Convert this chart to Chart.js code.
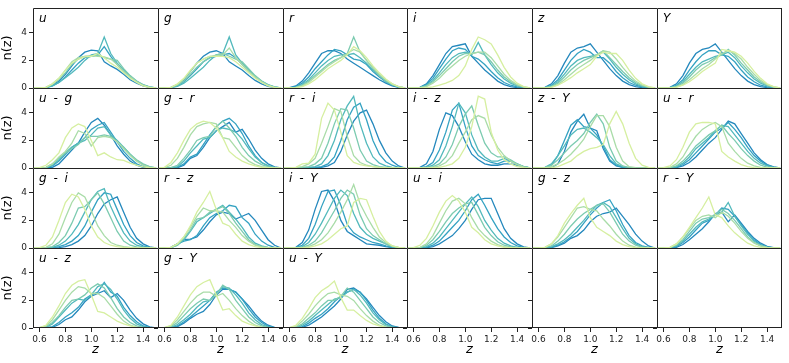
<!DOCTYPE html>
<html>
<head>
<meta charset="utf-8">
<script src="https://cdn.jsdelivr.net/npm/chart.js@4.4.1/dist/chart.umd.min.js"></script>
<style>
  body { margin: 0; background: #fff; }
  #fig { position: relative; width: 789px; height: 363px; overflow: hidden; }
  #fig canvas { position: absolute; }
</style>
</head>
<body>
<div id="fig"></div>
<script>
// redshift grid shared by every panel
const zGrid = [0.55, 0.60, 0.65, 0.70, 0.75, 0.80, 0.85, 0.90, 0.95, 1.00, 1.05, 1.10, 1.15, 1.20, 1.25, 1.30, 1.35, 1.40, 1.45, 1.50];
const xTicks = [0.6, 0.8, 1.0, 1.2, 1.4];
const yTicks = [0, 2, 4];
const panelNames = ['u', 'g', 'r', 'i', 'z', 'Y', 'u - g', 'g - r', 'r - i', 'i - z', 'z - Y', 'u - r',
  'g - i', 'r - z', 'i - Y', 'u - i', 'g - z', 'r - Y', 'u - z', 'g - Y', 'u - Y'];
// six bins per panel, lightest first
const lineColors = ['#d6efa0', '#a9dca8', '#7ccbb0', '#52b9bc', '#34a2c2', '#2488bd'];

const nz_u = [
  [0,0,0.05,0.3,0.7,1.3,1.8,2.1,2.25,2.3,2.5,2.2,1.8,1.5,1.1,0.7,0.4,0.15,0.05,0],
  [0,0,0.05,0.3,0.7,1.3,1.9,2.2,2.3,2.35,2.3,2.25,2.1,1.7,1.2,0.8,0.45,0.2,0.05,0],
  [0,0,0.05,0.25,0.6,1.1,1.7,2.1,2.3,2.3,2.4,2.2,2.1,2.0,1.4,0.9,0.5,0.2,0.07,0],
  [0,0,0.03,0.15,0.4,0.75,1.1,1.5,2.0,2.4,2.5,3.7,2.5,1.8,1.3,0.85,0.5,0.25,0.08,0],
  [0,0,0.03,0.15,0.4,0.8,1.3,1.8,2.2,2.3,2.4,3.0,2.3,1.7,1.2,0.8,0.45,0.2,0.07,0],
  [0,0,0.05,0.2,0.5,1.0,1.6,2.2,2.6,2.75,2.7,1.9,1.6,1.35,1.0,0.6,0.35,0.15,0.05,0]
];
const nz_g = [
  [0,0,0.05,0.3,0.7,1.3,1.8,2.1,2.3,2.3,2.3,2.2,1.9,1.5,1.1,0.7,0.4,0.15,0.05,0],
  [0,0,0.05,0.25,0.65,1.2,1.8,2.1,2.3,2.35,2.4,2.9,2.2,1.7,1.2,0.8,0.45,0.2,0.05,0],
  [0,0,0.04,0.2,0.5,1.0,1.5,1.9,2.2,2.4,2.5,2.3,2.1,1.9,1.4,0.9,0.5,0.2,0.07,0],
  [0,0,0.03,0.12,0.35,0.7,1.1,1.5,2.0,2.4,2.5,3.7,2.4,1.8,1.3,0.85,0.5,0.25,0.08,0],
  [0,0,0.03,0.15,0.45,0.9,1.4,1.9,2.2,2.3,2.4,2.5,2.2,1.7,1.2,0.8,0.45,0.2,0.07,0],
  [0,0,0.05,0.25,0.6,1.2,1.8,2.3,2.6,2.7,2.5,1.9,1.6,1.3,0.9,0.55,0.3,0.12,0.04,0]
];
const nz_r = [
  [0,0,0.02,0.1,0.3,0.6,1.0,1.4,1.7,2.0,2.4,3.0,2.7,2.2,1.6,1.1,0.65,0.3,0.1,0],
  [0,0,0.03,0.15,0.4,0.8,1.2,1.6,1.9,2.2,2.5,2.8,2.6,2.0,1.5,1.0,0.6,0.3,0.1,0],
  [0,0,0.04,0.2,0.5,0.9,1.3,1.7,2.0,2.2,2.5,3.7,2.6,2.0,1.4,0.9,0.5,0.25,0.08,0],
  [0,0,0.05,0.25,0.6,1.1,1.6,2.0,2.3,2.4,2.4,2.5,2.2,1.8,1.3,0.9,0.5,0.25,0.08,0],
  [0,0,0.1,0.35,0.8,1.4,1.9,2.4,2.8,2.7,2.4,2.1,2.0,1.7,1.2,0.8,0.45,0.2,0.07,0],
  [0,0.02,0.15,0.5,1.1,1.8,2.5,2.7,2.7,2.5,2.1,1.8,1.5,1.2,0.9,0.6,0.35,0.15,0.05,0]
];
const nz_i = [
  [0,0,0,0.02,0.08,0.2,0.35,0.55,0.9,1.6,2.8,3.7,3.5,3.2,2.4,1.5,0.8,0.35,0.1,0],
  [0,0,0.02,0.1,0.35,0.7,1.2,1.6,2.0,2.3,2.5,2.6,2.6,2.2,1.6,1.0,0.55,0.25,0.08,0],
  [0,0,0.03,0.15,0.45,0.9,1.4,1.9,2.3,2.5,2.5,2.6,2.4,1.9,1.3,0.8,0.45,0.2,0.06,0],
  [0,0,0.03,0.2,0.55,1.1,1.7,2.2,2.5,2.6,2.4,3.3,2.4,1.7,1.1,0.65,0.35,0.15,0.05,0],
  [0,0,0.05,0.25,0.7,1.4,2.1,2.7,2.9,2.8,2.3,2.1,1.7,1.2,0.75,0.4,0.2,0.08,0.02,0],
  [0,0,0.05,0.3,0.9,1.7,2.5,3.0,3.1,3.2,2.3,1.8,1.3,0.9,0.5,0.25,0.1,0.03,0,0]
];
const nz_z = [
  [0,0,0,0.05,0.2,0.45,0.75,1.1,1.4,1.7,2.3,2.6,2.5,2.5,2.0,1.3,0.7,0.3,0.1,0],
  [0,0,0.01,0.08,0.25,0.6,1.0,1.4,1.7,2.0,2.4,2.7,2.6,2.1,1.5,0.95,0.5,0.22,0.07,0],
  [0,0,0.02,0.1,0.35,0.8,1.3,1.7,2.0,2.2,2.4,2.7,2.2,1.7,1.2,0.75,0.4,0.18,0.05,0],
  [0,0,0.02,0.15,0.45,1.0,1.6,2.0,2.2,2.3,2.4,2.6,2.1,1.5,1.0,0.6,0.3,0.12,0.04,0],
  [0,0,0.03,0.2,0.6,1.3,2.0,2.5,2.8,2.6,2.2,2.2,1.8,1.2,0.75,0.4,0.2,0.08,0.02,0],
  [0,0,0.05,0.3,0.9,1.8,2.6,2.9,3.0,3.2,2.6,2.0,1.4,0.9,0.5,0.25,0.1,0.03,0,0]
];
const nz_Y = [
  [0,0,0,0.05,0.2,0.45,0.8,1.2,1.5,1.8,2.8,2.7,2.6,2.3,1.8,1.2,0.7,0.3,0.1,0],
  [0,0,0.01,0.08,0.25,0.6,1.0,1.4,1.7,2.1,2.5,2.7,2.5,2.1,1.5,1.0,0.55,0.25,0.08,0],
  [0,0,0.02,0.1,0.35,0.8,1.3,1.7,1.9,2.2,2.4,2.8,2.4,1.8,1.3,0.8,0.45,0.2,0.06,0],
  [0,0,0.02,0.15,0.45,1.0,1.5,1.9,2.1,2.3,2.4,2.6,2.2,1.6,1.1,0.65,0.35,0.15,0.05,0],
  [0,0,0.03,0.2,0.6,1.3,1.9,2.4,2.7,2.7,2.4,2.3,1.9,1.3,0.8,0.45,0.2,0.08,0.02,0],
  [0,0,0.05,0.3,0.9,1.8,2.5,2.8,2.9,3.2,2.6,2.0,1.4,0.9,0.5,0.25,0.1,0.03,0,0]
];
const nz_ug = [
  [0,0.02,0.2,0.6,1.1,2.2,2.9,3.2,3.0,2.0,0.9,1.1,0.8,0.6,0.55,0.35,0.2,0.08,0.02,0],
  [0,0,0.05,0.3,0.8,1.2,1.8,2.7,2.5,1.6,2.2,2.3,2.2,1.9,1.4,0.9,0.5,0.2,0.05,0],
  [0,0,0.05,0.3,0.7,1.1,1.4,1.7,2.2,2.3,2.3,2.4,2.3,1.9,1.5,1.0,0.6,0.3,0.1,0],
  [0,0,0.03,0.2,0.6,1.1,1.5,1.8,2.0,2.4,2.9,3.0,2.4,2.0,1.5,1.0,0.55,0.25,0.08,0],
  [0,0,0.02,0.15,0.5,1.0,1.5,1.8,2.2,2.8,3.1,3.3,2.6,1.9,1.2,0.7,0.3,0.1,0.02,0],
  [0,0,0,0.05,0.3,0.8,1.3,1.8,2.6,3.3,3.6,3.1,2.4,1.6,1.0,0.5,0.2,0.05,0,0]
];
const nz_gr = [
  [0,0.05,0.4,1.1,2.0,2.8,3.2,3.4,3.3,2.9,2.2,1.2,0.8,0.5,0.3,0.15,0.05,0.02,0,0],
  [0,0.02,0.2,0.7,1.5,2.4,3.0,3.2,3.3,3.2,2.2,2.1,1.5,0.9,0.5,0.25,0.1,0.04,0,0],
  [0,0,0.03,0.2,0.7,1.3,2.0,2.2,2.3,3.0,3.4,2.9,2.3,1.5,0.9,0.5,0.25,0.1,0.03,0],
  [0,0,0.02,0.1,0.5,1.1,1.6,2.1,2.2,2.7,2.9,2.8,2.6,2.1,1.4,0.8,0.4,0.15,0.04,0],
  [0,0,0,0.05,0.3,0.8,1.0,1.7,2.4,3.0,3.4,3.6,3.2,2.5,1.6,0.9,0.4,0.15,0.04,0],
  [0,0,0,0.02,0.2,0.7,0.9,1.5,2.2,2.7,3.0,3.3,2.6,2.8,2.1,1.3,0.7,0.3,0.08,0]
];
const nz_ri = [
  [0,0,0.05,0.3,0.35,1.0,3.6,4.7,4.2,2.6,0.9,0.4,0.25,0.15,0.1,0.05,0.02,0,0,0],
  [0,0,0.03,0.1,0.3,0.7,1.8,3.0,4.3,4.1,2.3,0.9,0.4,0.2,0.1,0.05,0.02,0,0,0],
  [0,0,0,0.05,0.1,0.3,0.7,1.8,3.2,4.3,4.2,2.9,1.3,0.5,0.25,0.1,0.05,0.02,0,0],
  [0,0,0,0.02,0.05,0.1,0.3,0.9,2.0,3.5,4.5,5.2,3.2,1.8,0.8,0.35,0.15,0.05,0.02,0],
  [0,0,0,0,0.02,0.05,0.1,0.3,0.8,2.0,3.5,4.4,4.7,3.5,2.0,1.0,0.45,0.2,0.05,0],
  [0,0,0,0,0,0.02,0.05,0.15,0.4,1.2,2.4,3.4,4.0,4.2,3.2,2.0,1.1,0.5,0.15,0]
];
const nz_iz = [
  [0,0,0,0,0.02,0.05,0.15,0.3,0.7,1.5,3.0,5.2,5.0,2.6,1.3,0.6,0.3,0.1,0.03,0],
  [0,0,0,0,0.05,0.15,0.4,0.9,1.8,2.6,3.5,3.8,3.6,2.4,1.5,0.9,0.5,0.25,0.08,0],
  [0,0,0,0.02,0.1,0.3,0.8,1.7,3.0,3.9,4.5,3.1,1.8,1.1,0.8,0.8,0.6,0.3,0.1,0],
  [0,0,0,0.05,0.2,0.6,1.6,3.0,4.7,4.0,2.4,1.3,0.8,0.5,0.5,0.7,0.5,0.25,0.08,0],
  [0,0,0.02,0.1,0.4,1.3,2.6,4.2,4.7,3.0,1.6,0.9,0.6,0.4,0.3,0.5,0.5,0.3,0.1,0],
  [0,0,0.05,0.3,1.2,2.8,4.0,3.8,3.0,1.9,1.0,0.6,0.3,0.2,0.2,0.3,0.3,0.2,0.1,0]
];
const nz_zY = [
  [0,0,0,0.02,0.1,0.3,0.5,0.9,1.2,1.4,1.5,1.7,3.2,4.1,3.2,1.8,0.7,0.2,0.05,0],
  [0,0,0.02,0.1,0.3,0.6,1.0,1.5,2.1,3.0,3.8,3.8,3.0,1.5,0.5,0.1,0.02,0,0,0],
  [0,0,0.03,0.2,0.6,1.1,1.6,2.0,2.5,3.3,3.9,3.2,1.5,0.5,0.15,0.03,0,0,0,0],
  [0,0,0.05,0.3,0.9,1.6,2.4,2.8,2.9,2.6,2.2,1.7,0.9,0.3,0.1,0.02,0,0,0,0],
  [0,0,0.02,0.2,0.9,2.0,3.1,3.5,3.0,2.9,2.4,1.6,0.6,0.2,0.05,0,0,0,0,0],
  [0,0,0,0.02,0.3,1.2,2.6,3.4,3.9,2.9,2.7,1.4,0.5,0.15,0.05,0,0,0,0,0]
];
const nz_ur = [
  [0,0.02,0.15,0.6,1.5,2.6,3.2,3.3,3.3,3.2,1.2,0.8,0.5,0.25,0.1,0.03,0,0,0,0],
  [0,0,0.05,0.3,0.8,1.6,2.3,2.8,3.1,3.3,3.0,1.8,1.2,0.7,0.35,0.15,0.05,0,0,0],
  [0,0,0.02,0.15,0.5,1.0,1.6,2.0,2.4,2.7,3.1,2.5,2.0,1.4,0.9,0.5,0.2,0.07,0.02,0],
  [0,0,0.01,0.1,0.35,0.8,1.4,1.8,2.2,2.7,3.1,3.0,2.4,1.8,1.2,0.7,0.35,0.15,0.04,0],
  [0,0,0,0.05,0.25,0.6,1.1,1.6,2.1,2.6,2.9,3.3,2.8,2.2,1.5,0.9,0.5,0.2,0.06,0],
  [0,0,0,0.03,0.15,0.4,0.8,1.3,1.8,2.2,2.8,3.4,3.2,2.5,1.8,1.1,0.6,0.25,0.08,0]
];
const nz_gi = [
  [0,0.02,0.2,0.8,2.0,3.3,3.9,3.7,2.8,1.6,0.8,0.4,0.2,0.1,0.05,0.02,0,0,0,0],
  [0,0,0.05,0.3,1.0,2.2,3.3,4.0,3.7,2.7,1.6,0.9,0.4,0.2,0.1,0.04,0,0,0,0],
  [0,0,0.02,0.1,0.4,0.9,1.8,2.9,3.0,3.5,4.0,3.2,2.2,1.2,0.5,0.2,0.08,0.02,0,0],
  [0,0,0,0.05,0.2,0.5,1.0,1.7,2.6,3.5,4.1,4.3,3.0,2.0,1.1,0.5,0.2,0.08,0.02,0],
  [0,0,0,0.02,0.1,0.25,0.5,0.9,1.6,2.6,3.5,4.0,3.9,2.8,1.7,0.9,0.4,0.15,0.04,0],
  [0,0,0,0,0.03,0.1,0.25,0.5,0.9,1.6,2.5,3.2,3.5,3.7,2.6,1.5,0.7,0.3,0.08,0]
];
const nz_rz = [
  [0,0,0.05,0.3,0.8,1.6,2.6,3.3,4.1,2.8,1.8,1.6,1.0,0.5,0.25,0.1,0.03,0,0,0],
  [0,0,0.05,0.3,0.8,1.5,2.3,2.9,2.7,2.7,2.6,2.0,1.5,0.9,0.5,0.2,0.08,0.02,0,0],
  [0,0,0.03,0.2,0.7,1.3,2.1,2.2,2.6,2.8,3.0,2.5,1.8,1.2,0.6,0.25,0.1,0.03,0,0],
  [0,0,0.02,0.2,0.6,1.2,1.9,2.2,2.5,2.8,3.1,2.6,2.1,1.5,0.8,0.35,0.15,0.05,0,0],
  [0,0,0.05,0.3,0.5,0.6,0.9,1.6,2.2,2.5,2.7,3.1,3.0,2.2,1.8,1.0,0.5,0.2,0.05,0],
  [0,0,0.05,0.3,0.6,0.65,0.8,1.3,1.9,2.4,2.6,2.5,2.1,2.3,2.5,2.0,1.3,0.6,0.2,0]
];
const nz_iY = [
  [0,0,0,0,0.05,0.15,0.3,0.6,1.0,1.4,1.6,3.3,3.6,3.5,2.3,1.2,0.5,0.15,0.04,0],
  [0,0,0,0.02,0.1,0.3,0.6,1.1,1.8,2.6,3.5,4.6,3.2,2.3,1.5,0.8,0.4,0.15,0.04,0],
  [0,0,0,0.05,0.2,0.5,1.1,1.9,2.7,3.6,4.2,3.9,2.4,1.4,0.9,0.6,0.3,0.1,0.03,0],
  [0,0,0.02,0.1,0.4,1.0,1.8,2.7,3.6,4.2,3.8,2.5,1.5,1.0,0.7,0.5,0.3,0.1,0.02,0],
  [0,0,0.03,0.2,0.7,1.7,3.0,4.1,4.2,3.1,1.7,1.1,0.8,0.6,0.4,0.3,0.15,0.05,0,0],
  [0,0,0.05,0.4,1.3,2.8,4.1,4.2,3.4,2.0,1.2,0.9,0.6,0.3,0.25,0.2,0.1,0.03,0,0]
];
const nz_ui = [
  [0,0.02,0.2,0.7,1.6,2.6,3.4,3.8,3.4,2.6,1.5,1.1,0.6,0.3,0.15,0.05,0.02,0,0,0],
  [0,0,0.05,0.3,0.9,1.8,2.7,3.4,3.6,3.2,2.2,1.4,0.9,0.5,0.25,0.1,0.03,0,0,0],
  [0,0,0.03,0.2,0.6,1.2,1.9,2.5,2.9,3.2,3.3,2.4,1.5,0.9,0.45,0.2,0.08,0.02,0,0],
  [0,0,0.02,0.1,0.35,0.8,1.4,2.0,2.6,3.2,3.7,3.0,2.0,1.3,0.7,0.35,0.15,0.04,0,0],
  [0,0,0,0.05,0.2,0.5,1.0,1.5,2.0,2.7,3.5,3.9,3.1,2.2,1.4,0.8,0.4,0.15,0.04,0],
  [0,0,0,0.02,0.1,0.3,0.6,0.9,1.4,2.0,2.8,3.5,3.6,3.6,2.5,1.4,0.7,0.3,0.08,0]
];
const nz_gz = [
  [0,0,0.05,0.3,0.9,1.8,2.5,3.1,3.6,2.2,1.5,1.2,0.9,0.5,0.25,0.1,0.03,0,0,0],
  [0,0,0.05,0.3,0.8,1.5,2.2,2.9,3.0,2.8,2.7,2.1,1.6,1.0,0.5,0.2,0.07,0.02,0,0],
  [0,0,0.03,0.15,0.5,1.0,1.6,2.1,2.5,2.8,3.1,3.2,2.6,1.8,1.0,0.5,0.2,0.06,0,0],
  [0,0,0.02,0.1,0.3,0.6,1.0,1.5,2.0,2.6,3.1,3.3,3.0,2.2,1.4,0.7,0.3,0.1,0.02,0],
  [0,0,0,0.05,0.2,0.45,0.8,1.2,1.8,2.4,2.9,3.3,3.5,2.7,1.7,0.9,0.4,0.15,0.04,0],
  [0,0,0,0.03,0.15,0.35,0.7,0.9,1.3,1.9,2.3,2.5,2.6,2.9,2.3,1.7,1.0,0.5,0.15,0]
];
const nz_rY = [
  [0,0,0.05,0.3,0.8,1.5,2.2,2.9,3.7,2.4,2.2,1.6,1.1,0.7,0.35,0.15,0.05,0,0,0],
  [0,0,0.05,0.3,0.8,1.4,2.0,2.3,2.4,2.2,2.6,2.3,1.8,1.2,0.7,0.35,0.15,0.05,0,0],
  [0,0,0.03,0.2,0.6,1.2,1.8,2.1,2.2,2.4,2.8,2.5,2.0,1.4,0.8,0.4,0.15,0.05,0,0],
  [0,0,0.02,0.15,0.5,1.0,1.5,1.9,2.1,2.4,2.6,3.3,2.3,1.6,1.0,0.5,0.2,0.06,0,0],
  [0,0,0.02,0.1,0.4,0.8,1.3,1.8,2.0,2.4,2.9,2.8,2.3,1.7,1.1,0.6,0.25,0.08,0,0],
  [0,0,0,0.05,0.25,0.6,1.0,1.4,1.9,2.5,2.6,1.9,2.4,1.8,1.2,0.7,0.35,0.12,0.03,0]
];
const nz_uz = [
  [0,0.02,0.2,0.8,1.6,2.5,3.1,3.4,3.5,2.4,1.2,1.1,0.8,0.5,0.3,0.15,0.05,0,0,0],
  [0,0.02,0.15,0.6,1.3,2.0,2.6,3.0,2.9,2.5,2.5,2.2,1.6,1.0,0.5,0.2,0.07,0,0,0],
  [0,0,0.1,0.4,0.9,1.5,2.0,2.1,2.4,2.9,3.2,2.9,2.2,1.4,0.8,0.4,0.15,0.04,0,0],
  [0,0,0.05,0.3,0.8,1.3,1.8,2.1,2.0,2.4,3.0,3.2,2.8,2.1,1.3,0.7,0.3,0.1,0.02,0],
  [0,0,0.02,0.1,0.4,0.8,1.1,1.5,2.1,2.4,2.6,3.3,2.6,2.3,1.5,0.9,0.45,0.15,0.04,0],
  [0,0,0,0.05,0.25,0.6,0.8,1.3,1.9,2.3,2.5,2.7,2.2,2.5,2.0,1.3,0.7,0.3,0.08,0]
];
const nz_gY = [
  [0,0.02,0.2,0.8,1.6,2.4,3.0,3.3,3.5,2.4,1.3,1.4,0.9,0.5,0.3,0.15,0.05,0,0,0],
  [0,0.02,0.15,0.6,1.2,1.8,2.3,2.6,2.6,2.3,2.5,2.0,1.4,0.9,0.5,0.2,0.07,0,0,0],
  [0,0,0.1,0.4,0.9,1.4,1.8,2.1,2.0,2.4,3.1,2.8,2.0,1.4,0.8,0.4,0.15,0.04,0,0],
  [0,0,0.05,0.25,0.6,1.0,1.5,1.9,2.0,2.5,3.0,2.9,2.4,1.8,1.1,0.6,0.25,0.08,0,0],
  [0,0,0.02,0.15,0.45,0.8,1.2,1.6,2.0,2.6,2.9,2.8,2.6,2.1,1.4,0.8,0.4,0.12,0.03,0],
  [0,0,0,0.1,0.35,0.7,1.0,1.2,1.7,2.4,2.8,2.8,2.6,2.1,1.6,1.0,0.5,0.2,0.05,0]
];
const nz_uY = [
  [0,0.02,0.2,0.7,1.4,2.2,2.7,3.0,3.4,2.2,1.3,1.3,0.9,0.55,0.3,0.15,0.05,0,0,0],
  [0,0.02,0.1,0.5,1.0,1.6,2.1,2.5,2.6,2.4,2.3,2.0,1.4,0.9,0.5,0.2,0.07,0,0,0],
  [0,0,0.05,0.3,0.7,1.1,1.6,2.0,2.0,2.3,2.9,2.6,2.0,1.4,0.8,0.4,0.15,0.04,0,0],
  [0,0,0.03,0.2,0.5,0.9,1.3,1.7,2.1,2.2,2.6,2.8,2.4,1.8,1.1,0.6,0.25,0.08,0,0],
  [0,0,0.02,0.1,0.35,0.7,1.0,1.4,1.9,2.3,2.6,2.8,2.6,2.0,1.3,0.7,0.3,0.1,0.02,0],
  [0,0,0,0.05,0.2,0.5,0.8,1.2,1.6,2.1,2.8,2.9,2.6,2.1,1.5,0.9,0.45,0.15,0.04,0]
];

const panelData = [nz_u, nz_g, nz_r, nz_i, nz_z, nz_Y, nz_ug, nz_gr, nz_ri, nz_iz, nz_zY, nz_ur,
  nz_gi, nz_rz, nz_iY, nz_ui, nz_gz, nz_rY, nz_uz, nz_gY, nz_uY];

// figure geometry
const X0 = 33, Y0 = 8, PW = 124.83, PH = 80, NCOL = 6, NROW = 4;
const Z_MIN = 0.55, Z_MAX = 1.515, N_MAX = 5.8;
const FONT = '"DejaVu Sans", sans-serif';

const fig = document.getElementById('fig');

// frame + panel label
const panelDecor = {
    id: 'panelDecor',
    afterDraw(chart, args, opts) {
        const { ctx, chartArea: ca } = chart;
        ctx.save();
        ctx.strokeStyle = '#222';
        ctx.lineWidth = 1;
        ctx.beginPath();
        ctx.moveTo(ca.left + 0.5, ca.bottom);
        ctx.lineTo(ca.left + 0.5, ca.top + 0.5);
        ctx.lineTo(ca.right, ca.top + 0.5);
        if (opts.lastCol) {
            ctx.moveTo(ca.right - 0.5, ca.top);
            ctx.lineTo(ca.right - 0.5, ca.bottom);
        }
        if (opts.lastRow) {
            ctx.moveTo(ca.left, ca.bottom - 0.5);
            ctx.lineTo(ca.right, ca.bottom - 0.5);
        }
        ctx.stroke();
        if (opts.label) {
            ctx.fillStyle = '#000';
            ctx.font = 'italic 12px ' + FONT;
            ctx.letterSpacing = '1.5px';
            ctx.textBaseline = 'alphabetic';
            ctx.fillText(opts.label, ca.left + 6, ca.top + 14);
        }
        ctx.restore();
    }
};

for (let k = 0; k < NCOL * NROW; k++) {
    const row = Math.floor(k / NCOL), col = k % NCOL;
    const left = Math.round(X0 + col * PW), right = Math.round(X0 + (col + 1) * PW);
    const top = Y0 + row * PH;
    const lastRow = row === NROW - 1;
    const padL = col === 0 ? 33 : 5;
    // upper rows get a thin empty strip so the "0" label is not cut off
    const padB = lastRow ? 35 : 6;

    const canvas = document.createElement('canvas');
    canvas.width = right - left + padL;
    canvas.height = PH + padB;
    canvas.style.left = (left - padL) + 'px';
    canvas.style.top = top + 'px';
    fig.appendChild(canvas);

    const series = panelData[k] || [];
    const datasets = series.map((vals, i) => ({
        data: vals.map((v, j) => ({ x: zGrid[j], y: v })),
        borderColor: lineColors[i],
        borderWidth: 1.3,
        pointRadius: 0,
        tension: 0,
        fill: false
    }));

    new Chart(canvas, {
        type: 'line',
        data: { datasets },
        options: {
            responsive: false,
            animation: false,
            devicePixelRatio: 1,
            layout: { padding: 0 },
            plugins: {
                legend: { display: false },
                tooltip: { enabled: false },
                panelDecor: { label: panelNames[k], lastCol: col === NCOL - 1, lastRow }
            },
            scales: {
                x: {
                    type: 'linear',
                    min: Z_MIN,
                    max: Z_MAX,
                    afterBuildTicks: s => { s.ticks = xTicks.map(v => ({ value: v })); },
                    afterFit: s => { s.height = padB; s.paddingLeft = 0; s.paddingRight = 0; },
                    grid: { display: lastRow, drawOnChartArea: false, drawTicks: true, tickLength: 4, color: '#222' },
                    border: { display: false },
                    ticks: {
                        display: lastRow,
                        color: '#222', font: { family: FONT, size: 9 }, padding: 2, maxRotation: 0,
                        callback: v => v.toFixed(1)
                    },
                    title: {
                        display: lastRow, text: 'z', color: '#000', padding: { top: 0, bottom: 6 },
                        font: { family: FONT, size: 13, style: 'italic' }
                    }
                },
                y: {
                    min: 0,
                    max: N_MAX,
                    afterBuildTicks: s => { s.ticks = yTicks.map(v => ({ value: v })); },
                    afterFit: s => { s.width = padL; s.paddingTop = 0; s.paddingBottom = 0; },
                    grid: { display: true, drawOnChartArea: false, drawTicks: true, tickLength: 4, color: '#222' },
                    border: { display: false },
                    ticks: {
                        display: col === 0,
                        color: '#222', font: { family: FONT, size: 9 }, padding: 2
                    },
                    title: {
                        display: col === 0, text: 'n(z)', color: '#000', padding: { top: 0, bottom: 2 },
                        font: { family: FONT, size: 13 }
                    }
                }
            }
        },
        plugins: [panelDecor]
    });
}
</script>
</body>
</html>
